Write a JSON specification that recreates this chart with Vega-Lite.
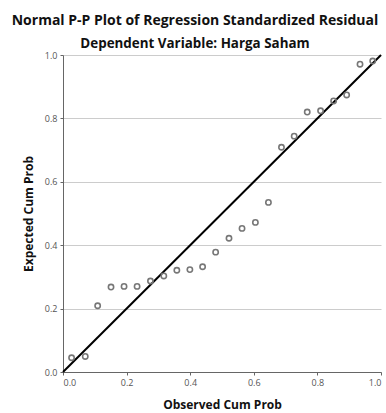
{
  "$schema": "https://vega.github.io/schema/vega-lite/v6.json",
  "autosize": "none",
  "width": 318,
  "height": 317,
  "padding": {"left": 63, "top": 55, "right": 5, "bottom": 41},
  "background": "white",
  "title": {
    "text": "Normal P-P Plot of Regression Standardized Residual",
    "subtitle": "Dependent Variable: Harga Saham",
    "font": "Open Sans",
    "subtitleFont": "Open Sans",
    "fontSize": 14,
    "subtitleFontSize": 13.4,
    "fontWeight": "bold",
    "subtitleFontWeight": "bold",
    "color": "#111",
    "subtitleColor": "#111",
    "anchor": "middle",
    "dx": -27,
    "offset": 1,
    "subtitlePadding": 9
  },
  "config": {
    "view": {"stroke": null},
    "axis": {
      "labelFont": "Open Sans",
      "titleFont": "Open Sans",
      "labelFontSize": 9,
      "labelColor": "#555",
      "titleFontSize": 12,
      "titleFontWeight": "bold",
      "titleColor": "#111",
      "domainColor": "#666",
      "tickColor": "#666",
      "tickSize": 3,
      "gridColor": "#cccccc"
    }
  },
  "layer": [
    {
      "data": {"values": [{"x": 0, "y": 0}, {"x": 1, "y": 1}]},
      "mark": {"type": "line", "color": "#000", "strokeWidth": 2},
      "encoding": {
        "x": {"field": "x", "type": "quantitative"},
        "y": {"field": "y", "type": "quantitative"}
      }
    },
    {
      "data": {"values": [
        {"obs": 0.027, "exp": 0.045},
        {"obs": 0.070, "exp": 0.049},
        {"obs": 0.109, "exp": 0.209},
        {"obs": 0.151, "exp": 0.268},
        {"obs": 0.192, "exp": 0.270},
        {"obs": 0.233, "exp": 0.270},
        {"obs": 0.275, "exp": 0.287},
        {"obs": 0.317, "exp": 0.303},
        {"obs": 0.358, "exp": 0.321},
        {"obs": 0.399, "exp": 0.323},
        {"obs": 0.439, "exp": 0.332},
        {"obs": 0.480, "exp": 0.378},
        {"obs": 0.522, "exp": 0.422},
        {"obs": 0.563, "exp": 0.453},
        {"obs": 0.605, "exp": 0.472},
        {"obs": 0.646, "exp": 0.535},
        {"obs": 0.687, "exp": 0.709},
        {"obs": 0.727, "exp": 0.744},
        {"obs": 0.768, "exp": 0.820},
        {"obs": 0.810, "exp": 0.824},
        {"obs": 0.851, "exp": 0.855},
        {"obs": 0.892, "exp": 0.874},
        {"obs": 0.934, "exp": 0.971},
        {"obs": 0.974, "exp": 0.981}
      ]},
      "mark": {"type": "point", "shape": "circle", "filled": false, "stroke": "#777", "strokeWidth": 1.6, "size": 28, "opacity": 1},
      "encoding": {
        "x": {
          "field": "obs", "type": "quantitative",
          "scale": {"domain": [0, 1], "nice": false, "zero": true},
          "axis": {"title": "Observed Cum Prob", "values": [0, 0.2, 0.4, 0.6, 0.8, 1.0], "format": ".1f", "grid": false, "titlePadding": 12, "labelPadding": 3}
        },
        "y": {
          "field": "exp", "type": "quantitative",
          "scale": {"domain": [0, 1], "nice": false},
          "axis": {"title": "Expected Cum Prob", "values": [0, 0.2, 0.4, 0.6, 0.8, 1.0], "format": ".1f", "grid": true, "titlePadding": 9, "labelPadding": 3}
        }
      }
    }
  ]
}
